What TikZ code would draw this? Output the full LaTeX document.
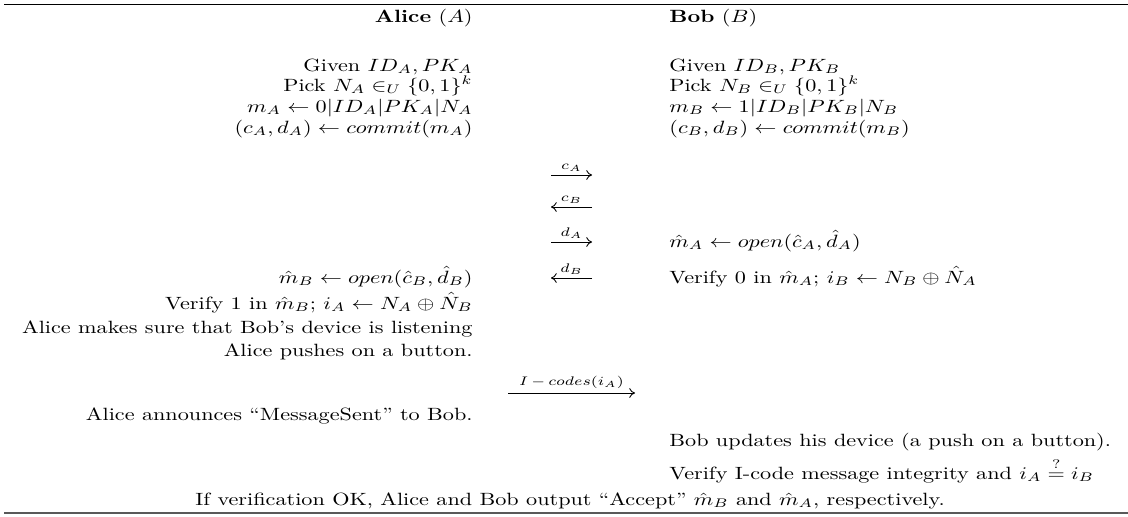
\documentclass[tikz,border=0pt]{standalone}
\usepackage{amsmath,amssymb,graphicx}
\usetikzlibrary{arrows.meta}
% text is set slightly flattened
\newcommand{\squash}[1]{\scalebox{1}[0.8]{#1}}
\tikzset{
  alice/.style={anchor=base east, inner sep=0pt},
  bob/.style={anchor=base west, inner sep=0pt},
  centre/.style={anchor=base, inner sep=0pt},
  msg/.style={-{To[length=2.6pt,width=4.4pt]}, line width=0.4pt},
  msglabel/.style={midway, above, inner sep=1.6pt},
  toprule/.style={line width=0.7pt},
  botrule/.style={line width=1pt, black!65},
}
\begin{document}
\begin{tikzpicture}[x=0.4505pt,y=-0.4505pt]
\useasboundingbox (0,0) rectangle (1128,517);
% column anchors: Alice is set flush right, Bob flush left
\def\xa{473}
\def\xb{669}
% rules above and below the protocol
\draw[toprule] (4,4.5) -- (1128,4.5);
\draw[botrule] (4,513) -- (1128,513);

% headings
\node[alice] (ha) at (\xa,22) {\squash{\textbf{Alice} $(A)$}};
\node[bob]   (hb) at (\xb,22) {\squash{\textbf{Bob} $(B)$}};

% set-up of both parties
\node[alice] (a1) at (\xa,71)  {\squash{Given $ID_A, PK_A$}};
\node[alice] (a2) at (\xa,91)  {\squash{Pick $N_A \in_U \{0,1\}^k$}};
\node[alice] (a3) at (\xa,112) {\squash{$m_A \leftarrow 0|ID_A|PK_A|N_A$}};
\node[alice] (a4) at (\xa,133) {\squash{$(c_A, d_A) \leftarrow commit(m_A)$}};
\node[bob] (b1) at (\xb,71)  {\squash{Given $ID_B, PK_B$}};
\node[bob] (b2) at (\xb,91)  {\squash{Pick $N_B \in_U \{0,1\}^k$}};
\node[bob] (b3) at (\xb,112) {\squash{$m_B \leftarrow 1|ID_B|PK_B|N_B$}};
\node[bob] (b4) at (\xb,133) {\squash{$(c_B, d_B) \leftarrow commit(m_B)$}};

% commitment exchange
\coordinate (ca1) at (551,175); \coordinate (ca2) at (592,175);
\coordinate (cb1) at (551,207); \coordinate (cb2) at (592,207);
\coordinate (da1) at (551,242); \coordinate (da2) at (592,242);
\coordinate (db1) at (551,278); \coordinate (db2) at (592,278);
\draw[msg] (ca1) -- node[msglabel] {\squash{$\scriptstyle c_A$}} (ca2);
\draw[msg] (cb2) -- node[msglabel] {\squash{$\scriptstyle c_B$}} (cb1);
\draw[msg] (da1) -- node[msglabel] {\squash{$\scriptstyle d_A$}} (da2);
\draw[msg] (db2) -- node[msglabel] {\squash{$\scriptstyle d_B$}} (db1);

% opening and checking
\node[bob]   (b5) at (\xb,247) {\squash{$\hat{m}_A \leftarrow open(\hat{c}_A, \hat{d}_A)$}};
\node[bob]   (b6) at (\xb,283) {\squash{Verify 0 in $\hat{m}_A$; $i_B \leftarrow N_B \oplus \hat{N}_A$}};
\node[alice] (a5) at (\xa,283) {\squash{$\hat{m}_B \leftarrow open(\hat{c}_B, \hat{d}_B)$}};
\node[alice] (a6) at (\xa,309) {\squash{Verify 1 in $\hat{m}_B$; $i_A \leftarrow N_A \oplus \hat{N}_B$}};
\node[alice] (a7) at (\xa,333) {\squash{Alice makes sure that Bob's device is listening}};
\node[alice] (a8) at (\xa,356) {\squash{Alice pushes on a button.}};

% I-code transfer
\coordinate (ic1) at (508,393); \coordinate (ic2) at (635,393);
\draw[msg] (ic1) -- node[msglabel] {\squash{$\scriptstyle I\,-\,codes(i_A)$}} (ic2);

\node[alice] (a9) at (\xa,420) {\squash{Alice announces ``MessageSent'' to Bob.}};
\node[bob] (b7) at (\xb,446) {\squash{Bob updates his device (a push on a button).}};
\node[bob] (b8) at (\xb,479) {\squash{Verify I-code message integrity and $i_A \stackrel{?}{=} i_B$}};
\node[centre] (res) at (570,505) {\squash{If verification OK, Alice and Bob output ``Accept'' $\hat{m}_B$ and $\hat{m}_A$, respectively.}};
\end{tikzpicture}
\end{document}
